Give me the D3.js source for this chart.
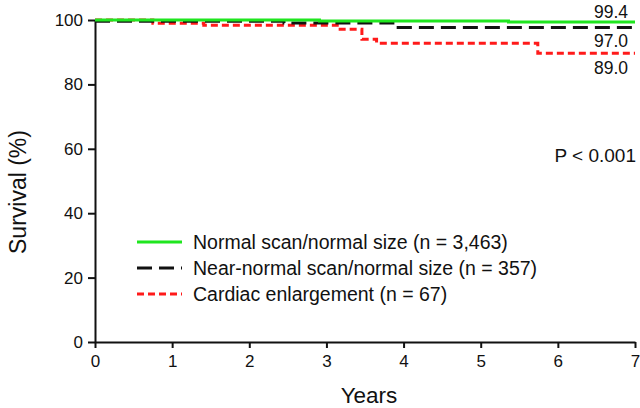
<!DOCTYPE html>
<html>
<head>
<meta charset="utf-8">
<script src="https://cdn.jsdelivr.net/npm/d3@7"></script>
<style>
  html, body { margin: 0; padding: 0; background: #fff; }
  svg { display: block; font-family: "Liberation Sans", Arial, Helvetica, sans-serif; }
</style>
</head>
<body>
<svg id="chart" width="640" height="408"></svg>
<script>
// ---- Data ----
const xTicks = [0, 1, 2, 3, 4, 5, 6, 7];
const yTicks = [0, 20, 40, 60, 80, 100];

const seriesNames = [
  "Normal scan/normal size (n = 3,463)",
  "Near-normal scan/normal size (n = 357)",
  "Cardiac enlargement (n = 67)"
];
const normalTimes = [0, 2.91, 5.36, 7];
const normalSurv  = [100, 99.7, 99.4, 99.4];
const nearTimes   = [0, 2.45, 3.93, 7];
const nearSurv    = [99.6, 99.1, 97.7, 97.7];
const cardTimes   = [0, 0.75, 1.41, 3.14, 3.46, 3.65, 5.74, 7];
const cardSurv    = [100, 99.0, 98.4, 97.1, 94.0, 92.8, 89.7, 89.7];
const endLabels   = ["99.4", "97.0", "89.0"];
const pLabel = "P < 0.001";

// ---- Chart ----
const svg = d3.select("#chart");
const x = d3.scaleLinear().domain([0, 7]).range([95, 635]);
const y = d3.scaleLinear().domain([0, 100]).range([342, 20]);

const styles = [
  { color: "#1fe61f", dash: null },
  { color: "#111111", dash: "15,7" },
  { color: "#ff1a1a", dash: "7,4" }
];
const series = [
  { times: normalTimes, surv: normalSurv },
  { times: nearTimes, surv: nearSurv },
  { times: cardTimes, surv: cardSurv }
];

const line = d3.line()
  .x(d => x(d[0]))
  .y(d => y(d[1]))
  .curve(d3.curveStepAfter);

// axes
const yAxis = svg.append("g")
  .attr("transform", `translate(${x(0)},0)`)
  .call(d3.axisLeft(y).tickValues(yTicks).tickFormat(d3.format("d"))
    .tickSize(7).tickSizeOuter(0).tickPadding(5));
const xAxis = svg.append("g")
  .attr("transform", `translate(0,${y(0)})`)
  .call(d3.axisBottom(x).tickValues(xTicks).tickFormat(d3.format("d"))
    .tickSize(6).tickSizeOuter(0).tickPadding(6));
[yAxis, xAxis].forEach(g => {
  g.select(".domain").attr("stroke", "#111").attr("stroke-width", 2);
  g.selectAll(".tick line").attr("stroke", "#111").attr("stroke-width", 2);
  g.selectAll(".tick text").attr("fill", "#111").style("font-size", "17px")
    .style("font-family", "'Liberation Sans', Arial, sans-serif");
});
xAxis.selectAll(".tick text").attr("dy", "0.75em");

// curves (draw red, black, green order)
[2, 1, 0].forEach(i => {
  const s = series[i];
  const pts = s.times.map((t, k) => [t, s.surv[k]]);
  svg.append("path")
    .attr("d", line(pts))
    .attr("fill", "none")
    .attr("stroke", styles[i].color)
    .attr("stroke-width", 3)
    .attr("stroke-dasharray", styles[i].dash);
});

// end labels
const endBaselines = [18, 47, 74];
endLabels.forEach((t, i) => {
  svg.append("text").attr("x", 628).attr("y", endBaselines[i])
    .attr("text-anchor", "end").attr("fill", "#111")
    .style("font-size", "17.5px").text(t);
});

// P value
svg.append("text").attr("x", 636).attr("y", 162)
  .attr("text-anchor", "end").attr("fill", "#111")
  .style("font-size", "19px").text(pLabel);

// legend
const legY = [242, 268, 294];
seriesNames.forEach((name, i) => {
  svg.append("line")
    .attr("x1", 137).attr("x2", 182).attr("y1", legY[i]).attr("y2", legY[i])
    .attr("stroke", styles[i].color).attr("stroke-width", 3)
    .attr("stroke-dasharray", styles[i].dash);
  svg.append("text").attr("x", 193).attr("y", legY[i] + 7)
    .attr("fill", "#111").style("font-size", "19.5px").text(name);
});

// axis titles
svg.append("text").attr("x", 369).attr("y", 403)
  .attr("text-anchor", "middle").attr("fill", "#111")
  .style("font-size", "22.5px").text("Years");
svg.append("text")
  .attr("transform", "translate(26,192) rotate(-90)")
  .attr("text-anchor", "middle").attr("fill", "#111")
  .style("font-size", "23px").text("Survival (%)");
</script>
</body>
</html>
